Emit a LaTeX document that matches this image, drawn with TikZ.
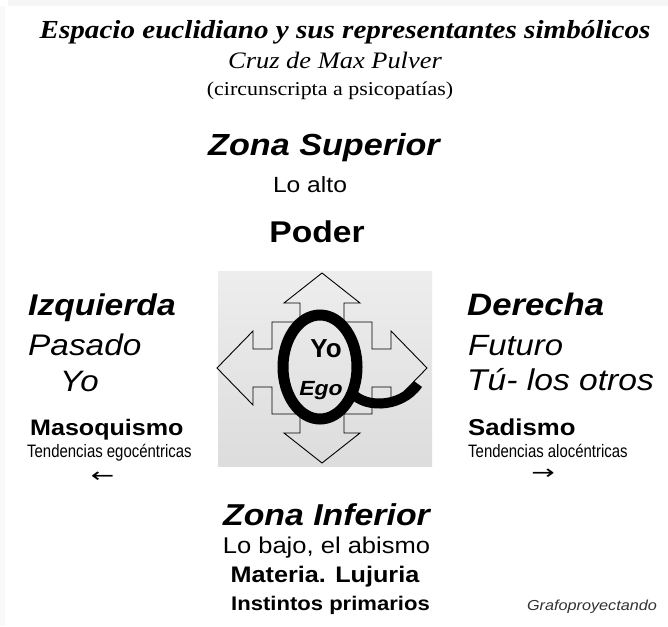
\documentclass[tikz,border=0pt]{standalone}
\usepackage{fontspec}
\setmainfont[FakeStretch=1.12]{Liberation Serif}
\newfontfamily\arialfont[FakeStretch=1.12]{Liberation Sans}
\newfontfamily\arialplain{Liberation Sans}
\newfontfamily\narrowfont[FakeStretch=0.83]{Liberation Sans}
\newfontfamily\arrowfont[FakeStretch=1.4]{DejaVu Sans}
\usepackage{xcolor}
\usetikzlibrary{positioning,calc}

\newcommand{\fsz}[1]{\fontsize{#1}{#1}\selectfont}

\begin{document}
\begin{tikzpicture}[x={(1pt,0)}, y={(0,-1pt)},
    ctext/.style={inner sep=0pt, anchor=base},
    ltext/.style={inner sep=0pt, anchor=base west}]
    % page and faint shadow edges
    \fill[white] (0,0) rectangle (668,626);
    \fill[gray!7] (8,0) rectangle (668,6);
    \fill[gray!5] (0,6) rectangle (5,626);

    % heading
    \node[ctext] (title) at (345,38) {\fsz{26}\bfseries\itshape Espacio euclidiano y sus representantes simbólicos};
    \node[ctext] (cruz) at (335,68) {\fsz{23.6}\itshape Cruz de Max Pulver};
    \node[ctext] (circ) at (330,95) {\fsz{19.6}(circunscripta a psicopatías)};

    % upper zone
    \node[ctext] (sup) at (324,155) {\arialfont\fsz{30.5}\bfseries\itshape Zona Superior};
    \node[ctext] (alto) at (310,192) {\arialfont\fsz{22}Lo alto};
    \node[ctext] (poder) at (317,242) {\arialfont\fsz{30}\bfseries Poder};

    % central square with the cross
    \node[inner sep=0pt, minimum width=214pt, minimum height=195pt,
          top color=gray!14, bottom color=gray!27] (box) at (325,368.5) {};
    \begin{scope}[shift={(322,368)}]
        \draw[line width=0.9pt, line join=miter]
            (0,-95) -- (38,-65) -- (22,-65) -- (22,-46) -- (50,-46) -- (50,-19)
            -- (69,-19) -- (69,-37) -- (105,0) -- (69,37) -- (69,19) -- (50,19)
            -- (50,46) -- (22,46) -- (22,65) -- (38,65) -- (0,95) -- (-38,65)
            -- (-22,65) -- (-22,46) -- (-50,46) -- (-50,19) -- (-69,19) -- (-69,37)
            -- (-105,0) -- (-69,-37) -- (-69,-19) -- (-50,-19) -- (-50,-46)
            -- (-22,-46) -- (-22,-65) -- (-38,-65) -- cycle;
        % the Q ring
        \draw[line width=11pt] (-2,-1) ellipse [x radius=37, y radius=52];
        \draw[line width=10pt] (28,22) .. controls (38,40) and (78,42) .. (96,16);
    \end{scope}
    \node[ctext] (yo) at (326,357) {\arialplain\fsz{26}\bfseries Yo};
    \node[ctext] (ego) at (321,395) {\arialfont\fsz{20.5}\bfseries\itshape Ego};

    % left side
    \node[ltext] (izq) at (28,315) {\arialfont\fsz{30}\bfseries\itshape Izquierda};
    \node[ltext] (pasado) at (28,355) {\arialfont\fsz{29.8}\itshape Pasado};
    \node[ltext] (yoizq) at (60,391) {\arialfont\fsz{29.5}\itshape Yo};
    \node[ltext] (maso) at (30,435) {\arialfont\fsz{22.4}\bfseries Masoquismo};
    \node[ltext] (ego-tend) at (27,457) {\narrowfont\fsz{18}Tendencias egocéntricas};
    \node[ctext] (larrow) at (102.5,482) {\arrowfont\fsz{20}←};

    % right side
    \node[ltext] (der) at (467,315) {\arialfont\fsz{31}\bfseries\itshape Derecha};
    \node[ltext] (futuro) at (468,355) {\arialfont\fsz{29.3}\itshape Futuro};
    \node[ltext] (otros) at (467,390) {\arialfont\fsz{30}\itshape Tú- los otros};
    \node[ltext] (sadismo) at (468,435) {\arialfont\fsz{23}\bfseries Sadismo};
    \node[ltext] (alo-tend) at (468,457) {\narrowfont\fsz{18}Tendencias alocéntricas};
    \node[ctext] (rarrow) at (543,479) {\arrowfont\fsz{20}→};

    % lower zone
    \node[ctext] (inf) at (326.5,525) {\arialfont\fsz{30.2}\bfseries\itshape Zona Inferior};
    \node[ctext] (bajo) at (326.5,553) {\arialfont\fsz{22.8}Lo bajo, el abismo};
    \node[ctext] (materia) at (325,582) {\arialfont\fsz{22.5}\bfseries Materia. Lujuria};
    \node[ctext] (instintos) at (330.5,610) {\arialfont\fsz{19.7}\bfseries Instintos primarios};
    \node[ctext, text=black!80] (firma) at (592,610) {\arialfont\fsz{14.5}\itshape Grafoproyectando};
\end{tikzpicture}
\end{document}
